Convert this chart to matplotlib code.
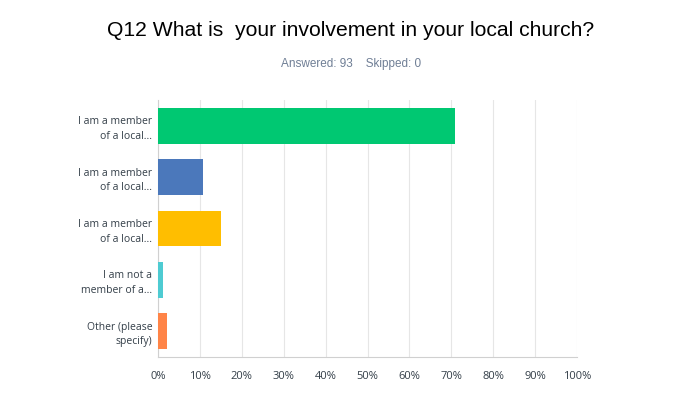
import matplotlib
matplotlib.use("Agg")
import matplotlib.pyplot as plt

categories = ["I am a member\nof a local...", "I am a member\nof a local...", "I am a member\nof a local...",
              "I am not a\nmember of a...", "Other (please\nspecify)"]
values = [70.97, 10.75, 15.05, 1.08, 2.15]
colors = ["#00C872", "#4B78BB", "#FFBE00", "#4ECBD2", "#FF8447"]
xticks = [0, 10, 20, 30, 40, 50, 60, 70, 80, 90, 100]
xticklabels = [f"{t}%" for t in xticks]

plt.rcParams['font.family'] = ['Liberation Sans', 'DejaVu Sans']
fig = plt.figure(figsize=(6.97, 3.94), dpi=100)
ax = fig.add_axes([158/697, 1-357/394, (577-158)/697, (357-100)/394])

ypos = list(range(len(categories)))
ax.barh(ypos, values, height=0.7, color=colors, zorder=3)
ax.set_ylim(len(categories)-0.5, -0.5)
ax.set_xlim(0, 100)
ax.set_xticks(xticks)
ax.set_xticklabels(xticklabels, fontsize=8, color="#333E48", family=['Open Sans', 'DejaVu Sans'])
ax.set_yticks(ypos)
ax.set_yticklabels(categories, fontsize=7.5, color="#333E48", linespacing=1.45,
                   family=['Open Sans', 'DejaVu Sans'])
ax.tick_params(axis='y', length=0, pad=4)
ax.tick_params(axis='x', length=0, pad=10)
ax.grid(axis='x', color="#E6E6E6", linewidth=0.8, zorder=0)
for s in ['top', 'right']:
    ax.spines[s].set_visible(False)
ax.spines['left'].set_color("#D0D0D0")
ax.spines['bottom'].set_color("#D0D0D0")

fig.text(351/697, 1-31/394, "Q12 What is  your involvement in your local church?", ha='center', va='center',
         fontsize=15.2, color="#000000")
fig.text(351/697, 1-64/394, "Answered: 93    Skipped: 0", ha='center', va='center',
         fontsize=8.5, color="#6F7E95")

fig.savefig("out.png", dpi=100)
